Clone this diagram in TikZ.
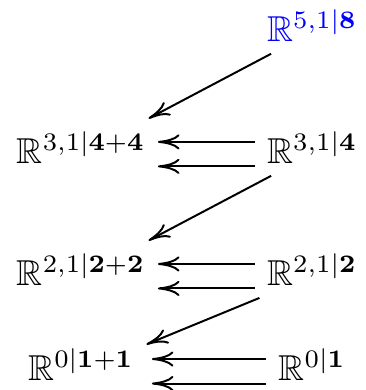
\documentclass[tikz,border=0pt]{standalone}
\usepackage{amssymb}
\usetikzlibrary{arrows.meta,positioning,cd}
\tikzset{
  sp/.style={shape=asymmetrical rectangle, inner sep=0.333em},
  arrow/.style={-{To[length=6pt,width=4.2pt]}, line width=0.55pt},
}

\begin{document}
\begin{tikzpicture}
  \useasboundingbox (0,0) rectangle (101.4pt,-108.3pt);
  % right column
  \node[sp, text=blue, anchor=base] (s51) at (86.7pt,-11.4pt) {$\mathbb{R}^{5,1|\mathbf{8}}$};
  \node[sp, below=33.9pt of s51.base, anchor=base] (s31) {$\mathbb{R}^{3,1|\mathbf{4}}$};
  \node[sp, below=33.9pt of s31.base, anchor=base] (s21) {$\mathbb{R}^{2,1|\mathbf{2}}$};
  \node[sp, below=26.4pt of s21.base, anchor=base] (s01) {$\mathbb{R}^{0|\mathbf{1}}$};
  % left column
  \node[sp, left=64.2pt of s31.base, anchor=base] (d31) {$\mathbb{R}^{3,1|\mathbf{4+4}}$};
  \node[sp, left=64.2pt of s21.base, anchor=base] (d21) {$\mathbb{R}^{2,1|\mathbf{2+2}}$};
  \node[sp, left=64.2pt of s01.base, anchor=base] (d01) {$\mathbb{R}^{0|\mathbf{1+1}}$};
  % double arrows
  \foreach \r/\l/\s in {s31/d31/0pt, s21/d21/0pt, s01/d01/1.5pt} {
    \draw[arrow, shorten >=\s] ([yshift=3.4pt]\r.west) -- ([yshift=3.4pt]\l.east);
    \draw[arrow, shorten >=\s] ([yshift=-3.4pt]\r.west) -- ([yshift=-3.4pt]\l.east);
  }
  % diagonals
  \draw[arrow] (s51) -- (d31);
  \draw[arrow] (s31) -- (d21);
  \draw[arrow] (s21) -- (d01);
\end{tikzpicture}
\end{document}
